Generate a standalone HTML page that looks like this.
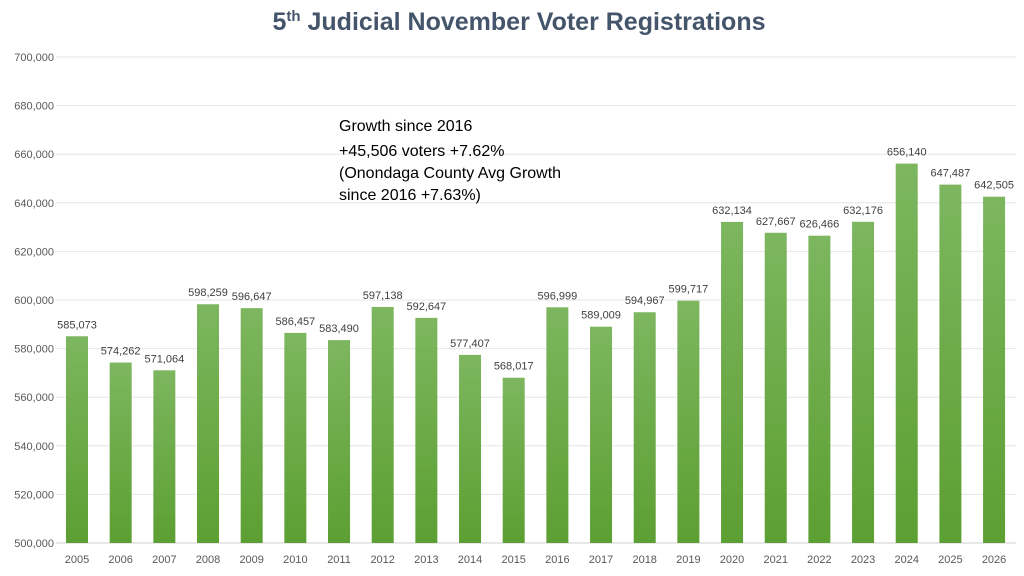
<!DOCTYPE html>
<html><head><meta charset="utf-8"><style>
body{margin:0;background:#fff;}
svg{display:block;font-family:"Liberation Sans",sans-serif;}
</style></head><body>
<svg id="chart" width="1024" height="576" viewBox="0 0 1024 576">
<defs><linearGradient id="g" x1="0" y1="0" x2="0" y2="1"><stop offset="0" stop-color="#7db65f"/><stop offset="1" stop-color="#5c9f32"/></linearGradient></defs>
<text x="519" y="30" text-anchor="middle" font-size="25" font-weight="bold" fill="#44546a">5<tspan font-size="15" dy="-9">th</tspan><tspan dy="9"> Judicial November Voter Registrations</tspan></text>
<g id="grid"></g><g id="bars"></g>
<text font-size="16" fill="#000"><tspan x="339" y="131">Growth since 2016</tspan><tspan x="339" y="156">+45,506 voters +7.62%</tspan><tspan x="339" y="178">(Onondaga County Avg Growth</tspan><tspan x="339" y="200">since 2016 +7.63%)</tspan></text>
</svg>
<script>
const years=["2005","2006","2007","2008","2009","2010","2011","2012","2013","2014","2015","2016","2017","2018","2019","2020","2021","2022","2023","2024","2025","2026"];
const values=[585073,574262,571064,598259,596647,586457,583490,597138,592647,577407,568017,596999,589009,594967,599717,632134,627667,626466,632176,656140,647487,642505];
const yTicks=[500000,520000,540000,560000,580000,600000,620000,640000,660000,680000,700000];
const NS="http://www.w3.org/2000/svg";
const y=v=>543-(v-500000)/200000*486;
const x=i=>77+i*43.67;
const fmt=v=>v.toLocaleString("en-US");
function mk(t,a,p,txt){const e=document.createElementNS(NS,t);for(const k in a)e.setAttribute(k,a[k]);if(txt!==undefined)e.textContent=txt;p.appendChild(e);return e;}
const grid=document.getElementById("grid"),bars=document.getElementById("bars");
yTicks.forEach(t=>{
 const l=mk("line",{x1:56,x2:1016,y1:y(t),y2:y(t),stroke:t===500000?"#d0d0d0":"#e6e6e6","stroke-width":1},grid);
 
 
 const tx=mk("text",{x:54,y:y(t)+4,"text-anchor":"end","font-size":11,fill:"#595959"},grid,fmt(t));
 
 
});
values.forEach((v,i)=>{
 const r=mk("rect",{x:x(i)-11,y:y(v),width:22,height:543-y(v),fill:"url(#g)"},bars);
 
 
 const lb=mk("text",{x:x(i),y:y(v)-8,"text-anchor":"middle","font-size":11,fill:"#404040"},bars,fmt(v));
 
 
 const xl=mk("text",{x:x(i),y:563,"text-anchor":"middle","font-size":11,fill:"#595959"},bars,years[i]);
 
 
});
</script>
</body></html>
